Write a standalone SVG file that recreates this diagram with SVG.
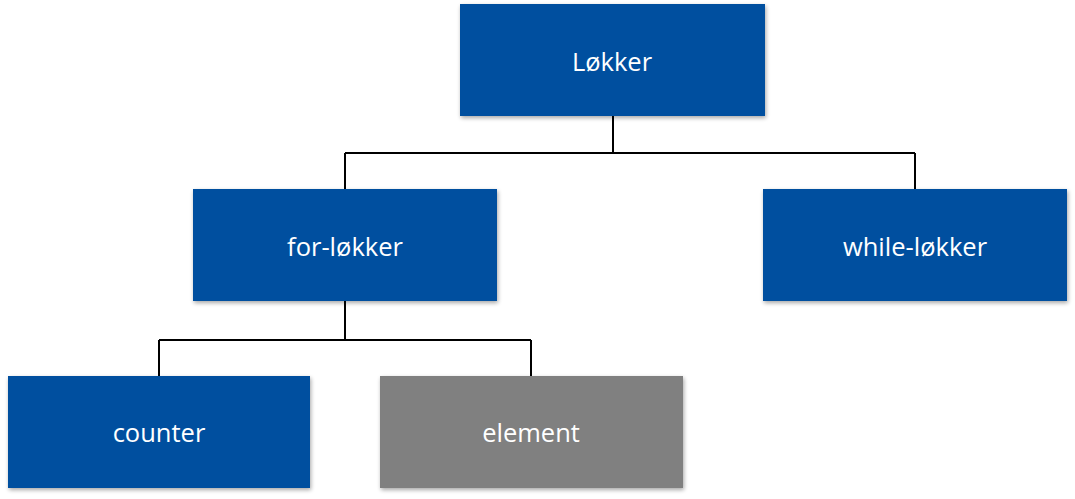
<svg xmlns="http://www.w3.org/2000/svg" width="1075" height="499" viewBox="0 0 1075 499">
<defs>
<filter id="sh" x="-5%" y="-5%" width="112%" height="120%">
<feGaussianBlur in="SourceAlpha" stdDeviation="2"/>
<feOffset dx="1" dy="2" result="b"/>
<feComponentTransfer><feFuncA type="linear" slope="0.35"/></feComponentTransfer>
<feMerge><feMergeNode/><feMergeNode in="SourceGraphic"/></feMerge>
</filter>
</defs>
<style>
.box{fill:#00509F;filter:url(#sh)}
.gray{fill:#808080;filter:url(#sh)}
.lbl{font-family:"Open Sans","Liberation Sans",sans-serif;font-size:25.5px;fill:#fff;text-anchor:middle;dominant-baseline:central}
.c{fill:none;stroke:#000;stroke-width:2}
</style>
<rect width="1075" height="499" fill="#fff"/>
<g id="connectors">
<path class="c" d="M613 116V153M345 153H915M345 153V189M915 153V189"/>
<path class="c" d="M345 301V340M159 340H531M159 340V376M531 340V376"/>
</g>
<g id="n-lokker"><rect class="box" x="460" y="4" width="305" height="112"/><text class="lbl" x="612" y="61">Løkker</text></g>
<g id="n-for"><rect class="box" x="193" y="189" width="304" height="112"/><text class="lbl" x="345" y="246">for-løkker</text></g>
<g id="n-while"><rect class="box" x="763" y="189" width="304" height="112"/><text class="lbl" x="915" y="246">while-løkker</text></g>
<g id="n-counter"><rect class="box" x="8" y="376" width="302" height="112"/><text class="lbl" x="159" y="432">counter</text></g>
<g id="n-element"><rect class="gray" x="380" y="376" width="303" height="112"/><text class="lbl" x="531" y="432">element</text></g>
</svg>
